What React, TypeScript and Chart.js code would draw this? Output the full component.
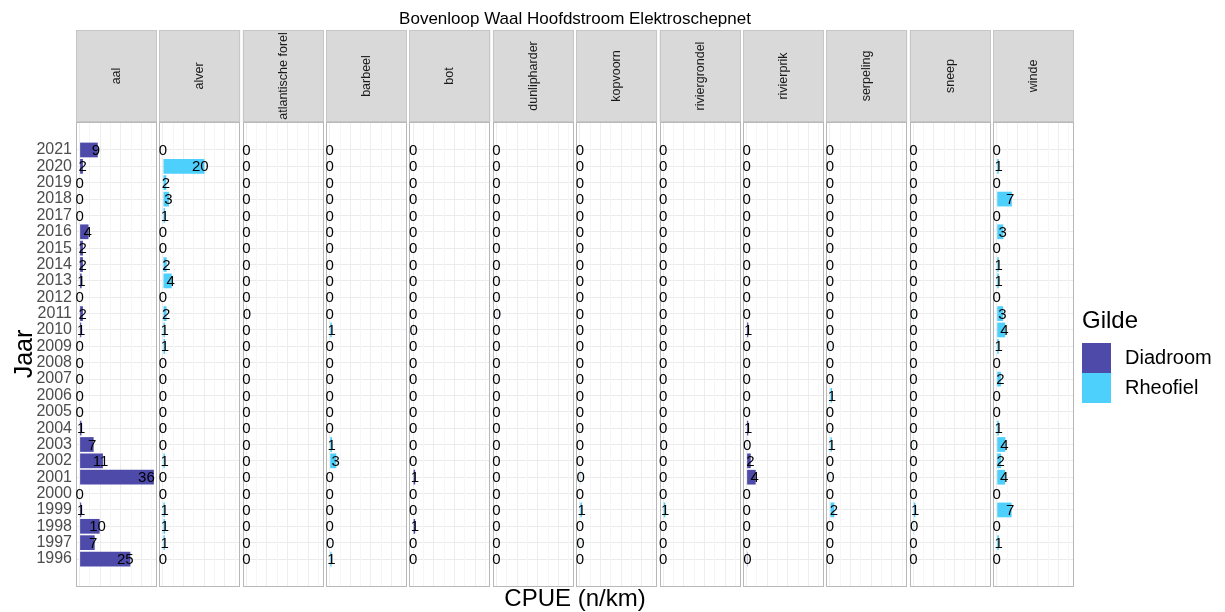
import React, { useEffect, useRef } from 'react';
import { Chart, registerables } from 'chart.js';
Chart.register(...registerables);

const FONT = '"Liberation Sans", Arial, Helvetica, sans-serif';

const chartTitle = 'Bovenloop Waal Hoofdstroom Elektroschepnet';
const xTitle = 'CPUE (n/km)';
const yTitle = 'Jaar';
const legendTitle = 'Gilde';
const gildeNames = ['Diadroom', 'Rheofiel'];
const gildeColors = ['#4D4AAA', '#4ED0FC'];

const years = [2021, 2020, 2019, 2018, 2017, 2016, 2015, 2014, 2013, 2012, 2011, 2010, 2009, 2008, 2007, 2006, 2005, 2004, 2003, 2002, 2001, 2000, 1999, 1998, 1997, 1996];

const species = ['aal', 'alver', 'atlantische forel', 'barbeel', 'bot', 'dunlipharder', 'kopvoorn', 'riviergrondel', 'rivierprik', 'serpeling', 'sneep', 'winde'];
const speciesGilde = ['Diadroom', 'Rheofiel', 'Diadroom', 'Rheofiel', 'Diadroom', 'Diadroom', 'Rheofiel', 'Rheofiel', 'Diadroom', 'Rheofiel', 'Rheofiel', 'Rheofiel'];

// values per species, years 2021 -> 1996
const aal = [8.8, 1.6, 0, 0, 0, 4.3, 1.6, 1.6, 1.0, 0, 1.6, 0.8, 0, 0, 0, 0, 0, 0.9, 6.8, 11.3, 36, 0, 0.8, 9.7, 7.3, 24.6];
const alver = [0, 20.1, 1.6, 2.9, 1.0, 0, 0, 1.8, 4.2, 0, 1.7, 0.9, 1.0, 0, 0, 0, 0, 0, 0, 0.9, 0, 0, 0.9, 1.0, 0.9, 0];
const atlantischeForel = [0, 0, 0, 0, 0, 0, 0, 0, 0, 0, 0.3, 0, 0, 0, 0, 0, 0, 0, 0, 0, 0, 0, 0, 0, 0, 0];
const barbeel = [0, 0, 0, 0, 0, 0, 0, 0, 0, 0, 0, 1.0, 0, 0, 0, 0, 0, 0, 1.1, 3.2, 0, 0, 0, 0, 0.3, 0.9];
const bot = [0, 0, 0, 0, 0, 0, 0, 0, 0, 0, 0, 0.3, 0, 0, 0, 0, 0, 0, 0, 0, 1.0, 0, 0, 1.0, 0, 0];
const dunlipharder = [0, 0, 0, 0, 0, 0, 0, 0, 0, 0, 0.3, 0, 0, 0, 0, 0, 0, 0, 0, 0, 0, 0, 0, 0, 0, 0];
const kopvoorn = [0, 0, 0, 0, 0, 0, 0, 0, 0, 0, 0, 0, 0, 0, 0, 0, 0, 0, 0, 0, 0.4, 0, 1.0, 0, 0.3, 0];
const riviergrondel = [0, 0, 0, 0, 0, 0, 0, 0, 0, 0, 0, 0, 0, 0, 0, 0, 0, 0, 0.3, 0, 0, 0, 1.0, 0, 0, 0];
const rivierprik = [0, 0, 0, 0, 0, 0, 0, 0, 0, 0, 0, 0.8, 0, 0, 0, 0, 0, 0.8, 0.3, 2.0, 4.4, 0, 0, 0, 0, 0.4];
const serpeling = [0, 0, 0, 0, 0, 0, 0, 0, 0, 0, 0, 0, 0.3, 0, 0, 1.0, 0, 0, 0.9, 0, 0.3, 0, 2.1, 0, 0, 0];
const sneep = [0, 0, 0, 0, 0, 0, 0, 0, 0, 0, 0.3, 0, 0, 0, 0, 0, 0, 0, 0.3, 0, 0, 0, 1.0, 0.4, 0, 0];
const winde = [0, 1.0, 0, 7.3, 0, 3.2, 0, 1.0, 1.0, 0, 3.1, 4.1, 1.0, 0, 2.0, 0, 0, 1.0, 4.2, 2.1, 4.0, 0, 7.2, 0, 1.0, 0];

const speciesValues = [aal, alver, atlantischeForel, barbeel, bot, dunlipharder, kopvoorn, riviergrondel, rivierprik, serpeling, sneep, winde];

const xMin = -1.75;
const xMax = 37.45;
const xGridTicks = [0, 5, 10, 15, 20, 25, 30, 35];

const facetPlugin = {
  id: 'facet',
  beforeDatasetsDraw(chart: any) {
    const ctx = chart.ctx;
    const { top, bottom } = chart.chartArea;
    ctx.save();
    for (let k = 0; k < species.length - 1; k++) {
      const g = chart.scales['g' + k];
      ctx.fillStyle = '#ffffff';
      ctx.fillRect(g.left, top - 1, g.right - g.left, bottom - top + 2);
    }
    ctx.strokeStyle = '#B8B8B8';
    ctx.lineWidth = 1;
    for (let k = 0; k < species.length; k++) {
      const s = chart.scales['x' + k];
      ctx.strokeRect(Math.round(s.left) + 0.5, Math.round(top) + 0.5, Math.round(s.right - s.left) - 1, Math.round(bottom - top) - 1);
    }
    ctx.restore();
  },
  afterDatasetsDraw(chart: any) {
    const ctx = chart.ctx;
    ctx.save();
    ctx.font = `15px ${FONT}`;
    ctx.fillStyle = '#000000';
    ctx.textAlign = 'center';
    ctx.textBaseline = 'middle';
    chart.data.datasets.forEach((ds: any, di: number) => {
      const meta = chart.getDatasetMeta(di);
      const xs = chart.scales[ds.xAxisID];
      meta.data.forEach((el: any, i: number) => {
        const v = ds.data[i].x;
        const px = xs.getPixelForValue(v * 0.9);
        ctx.fillText(String(Math.round(v)), px, el.y + 1);
      });
    });
    ctx.restore();
  },
  afterDraw(chart: any) {
    const ctx = chart.ctx;
    const { left, right, top } = chart.chartArea;
    ctx.save();
    // strips
    const stripTop = 30;
    for (let k = 0; k < species.length; k++) {
      const s = chart.scales['x' + k];
      ctx.fillStyle = '#D9D9D9';
      ctx.fillRect(s.left, stripTop, s.right - s.left, top - stripTop);
      ctx.strokeStyle = '#C6C6C6';
      ctx.lineWidth = 1;
      ctx.strokeRect(Math.round(s.left) + 0.5, stripTop + 0.5, Math.round(s.right - s.left) - 1, top - stripTop - 1);
      ctx.save();
      ctx.translate((s.left + s.right) / 2, (stripTop + top) / 2);
      ctx.rotate(-Math.PI / 2);
      ctx.fillStyle = '#1A1A1A';
      ctx.font = `12.5px ${FONT}`;
      ctx.textAlign = 'center';
      ctx.textBaseline = 'middle';
      ctx.fillText(species[k], 0, 0);
      ctx.restore();
    }
    // title
    ctx.fillStyle = '#000000';
    ctx.font = `17px ${FONT}`;
    ctx.textAlign = 'center';
    ctx.textBaseline = 'alphabetic';
    ctx.fillText(chartTitle, (left + right) / 2, 24);
    // x title
    ctx.font = `24px ${FONT}`;
    ctx.fillText(xTitle, (left + right) / 2, 606);
    // y title
    ctx.save();
    ctx.translate(32, 354);
    ctx.rotate(-Math.PI / 2);
    ctx.font = `25px ${FONT}`;
    ctx.textAlign = 'center';
    ctx.textBaseline = 'alphabetic';
    ctx.fillText(yTitle, 0, 0);
    ctx.restore();
    // legend
    ctx.textAlign = 'left';
    ctx.font = `24px ${FONT}`;
    ctx.fillText(legendTitle, 1082, 328);
    gildeNames.forEach((n, i) => {
      ctx.fillStyle = gildeColors[i];
      ctx.fillRect(1082, 343 + i * 30, 29, 30);
      ctx.fillStyle = '#000000';
      ctx.font = `20px ${FONT}`;
      ctx.textBaseline = 'middle';
      ctx.fillText(n, 1125, 358 + i * 30);
    });
    ctx.restore();
  },
};

export default function App() {
  const ref = useRef<HTMLCanvasElement | null>(null);
  useEffect(() => {
    if (!ref.current) return;
    const scales: any = {
      y: {
        type: 'linear',
        position: 'left',
        offset: false,
        min: 1994.29,
        max: 2022.71,
        afterBuildTicks: (s: any) => {
          s.ticks = years.map((v) => ({ value: v }));
        },
        afterFit: (s: any) => {
          s.width = 76;
        },
        ticks: {
          autoSkip: false,
          padding: 4,
          color: '#4D4D4D',
          font: { family: FONT, size: 16 },
          callback: (v: any) => String(v),
        },
        grid: { color: '#EBEBEB', lineWidth: 1, drawTicks: false, offset: false },
        border: { display: false },
      },
    };
    species.forEach((_, k) => {
      scales['x' + k] = {
        type: 'linear',
        position: 'bottom',
        stack: 'panels',
        stackWeight: 80.9,
        min: xMin,
        max: xMax,
        afterBuildTicks: (s: any) => {
          s.ticks = xGridTicks.map((v) => ({ value: v }));
        },
        ticks: { display: false },
        grid: {
          drawTicks: false,
          color: (c: any) => (c.tick && c.tick.value % 10 === 0 ? '#EDEDED' : '#F6F6F6'),
          lineWidth: 1,
        },
        border: { display: false },
      };
      if (k < species.length - 1) {
        scales['g' + k] = {
          type: 'linear',
          position: 'bottom',
          stack: 'panels',
          stackWeight: 2.5,
          min: 0,
          max: 1,
          ticks: { display: false },
          grid: { display: false, drawTicks: false },
          border: { display: false },
        };
      }
    });

    const datasets = species.map((name, k) => ({
      label: name,
      xAxisID: 'x' + k,
      yAxisID: 'y',
      grouped: false,
      data: years.map((yr, i) => ({ x: speciesValues[k][i], y: yr })),
      backgroundColor: gildeColors[gildeNames.indexOf(speciesGilde[k])],
      borderWidth: 0,
      barPercentage: 0.9,
      categoryPercentage: 1,
    }));

    const chart = new Chart(ref.current, {
      type: 'bar',
      data: { datasets },
      options: {
        animation: false,
        responsive: false,
        devicePixelRatio: 1,
        indexAxis: 'y',
        layout: { padding: { left: 0, top: 122, right: 151, bottom: 25 } },
        plugins: { legend: { display: false }, tooltip: { enabled: false }, title: { display: false } },
        scales,
      } as any,
      plugins: [facetPlugin],
    } as any);
    return () => chart.destroy();
  }, []);
  return (
    <div style={{ position: 'fixed', left: 0, top: 0, width: 1225, height: 612, background: '#ffffff' }}>
      <canvas ref={ref} width={1225} height={612} style={{ display: 'block' }} />
    </div>
  );
}
